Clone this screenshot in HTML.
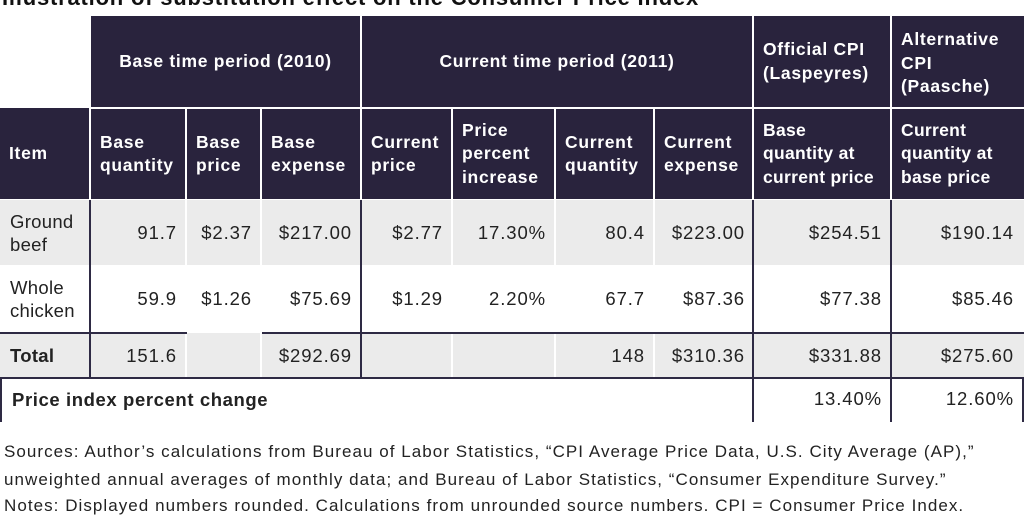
<!DOCTYPE html>
<html><head><meta charset="utf-8"><style>
body{margin:0;width:1024px;height:512px;overflow:hidden;background:#fff;font-family:"Liberation Sans",sans-serif;position:relative}
.a{position:absolute;box-sizing:border-box}
.h{background:#29233d;color:#fff;font-weight:bold;font-size:17.5px;letter-spacing:0.7px;line-height:23.5px;display:flex;align-items:center;padding-left:9px;white-space:nowrap}
.c{font-size:18.5px;letter-spacing:0.9px;color:#222;display:flex;align-items:center;justify-content:flex-end;padding-right:8px;white-space:nowrap}
.l{justify-content:flex-start;padding-left:10px;line-height:23px;letter-spacing:0.3px}
.g{background:#ebebeb}
.vd{position:absolute;background:#2e2a44;width:2px}
.hd{position:absolute;background:#2e2a44;height:2px}
.src{position:absolute;left:4px;font-size:17px;letter-spacing:1.05px;color:#222;white-space:nowrap}
</style></head><body>
<div class="a" style="left:2px;top:-15px;font-size:22px;font-weight:bold;letter-spacing:0.8px;color:#111;white-space:nowrap">Illustration of substitution effect on the Consumer Price Index</div>

<div class="a h" style="left:91px;top:16px;width:269px;height:91px;justify-content:center;padding:0">Base time period (2010)</div>
<div class="a h" style="left:362px;top:16px;width:390px;height:91px;justify-content:center;padding:0">Current time period (2011)</div>
<div class="a h" style="left:754px;top:16px;width:136px;height:91px">Official CPI<br>(Laspeyres)</div>
<div class="a h" style="left:892px;top:16px;width:132px;height:91px;padding-top:4px">Alternative<br>CPI<br>(Paasche)</div>

<div class="a h" style="left:0;top:108px;width:89px;height:91px">Item</div>
<div class="a h" style="left:91px;top:109px;width:94px;height:90px">Base<br>quantity</div>
<div class="a h" style="left:187px;top:109px;width:73px;height:90px">Base<br>price</div>
<div class="a h" style="left:262px;top:109px;width:98px;height:90px">Base<br>expense</div>
<div class="a h" style="left:362px;top:109px;width:89px;height:90px">Current<br>price</div>
<div class="a h" style="left:453px;top:109px;width:101px;height:90px">Price<br>percent<br>increase</div>
<div class="a h" style="left:556px;top:109px;width:97px;height:90px">Current<br>quantity</div>
<div class="a h" style="left:655px;top:109px;width:97px;height:90px">Current<br>expense</div>
<div class="a h" style="left:754px;top:109px;width:136px;height:90px;letter-spacing:0.3px">Base<br>quantity at<br>current price</div>
<div class="a h" style="left:892px;top:109px;width:132px;height:90px;letter-spacing:0.3px">Current<br>quantity at<br>base price</div>

<div class="a g" style="left:0;top:200px;width:1024px;height:65px"></div>
<div class="a g" style="left:0;top:333px;width:1024px;height:45px"></div>
<div class="a" style="left:185px;top:200px;width:2px;height:178px;background:#fff"></div>
<div class="a" style="left:260px;top:200px;width:2px;height:178px;background:#fff"></div>
<div class="a" style="left:451px;top:200px;width:2px;height:178px;background:#fff"></div>
<div class="a" style="left:554px;top:200px;width:2px;height:178px;background:#fff"></div>
<div class="a" style="left:653px;top:200px;width:2px;height:178px;background:#fff"></div>

<div class="a c l" style="left:0;top:200px;width:90px;height:65px">Ground<br>beef</div>
<div class="a c" style="left:91px;top:200px;width:94px;height:65px">91.7</div>
<div class="a c" style="left:187px;top:200px;width:73px;height:65px">$2.37</div>
<div class="a c" style="left:262px;top:200px;width:98px;height:65px">$217.00</div>
<div class="a c" style="left:362px;top:200px;width:89px;height:65px">$2.77</div>
<div class="a c" style="left:453px;top:200px;width:101px;height:65px">17.30%</div>
<div class="a c" style="left:556px;top:200px;width:97px;height:65px">80.4</div>
<div class="a c" style="left:655px;top:200px;width:98px;height:65px">$223.00</div>
<div class="a c" style="left:754px;top:200px;width:136px;height:65px">$254.51</div>
<div class="a c" style="left:892px;top:200px;width:130px;height:65px">$190.14</div>

<div class="a c l" style="left:0;top:265px;width:90px;height:67px">Whole<br>chicken</div>
<div class="a c" style="left:91px;top:265px;width:94px;height:67px">59.9</div>
<div class="a c" style="left:187px;top:265px;width:73px;height:67px">$1.26</div>
<div class="a c" style="left:262px;top:265px;width:98px;height:67px">$75.69</div>
<div class="a c" style="left:362px;top:265px;width:89px;height:67px">$1.29</div>
<div class="a c" style="left:453px;top:265px;width:101px;height:67px">2.20%</div>
<div class="a c" style="left:556px;top:265px;width:97px;height:67px">67.7</div>
<div class="a c" style="left:655px;top:265px;width:98px;height:67px">$87.36</div>
<div class="a c" style="left:754px;top:265px;width:136px;height:67px">$77.38</div>
<div class="a c" style="left:892px;top:265px;width:130px;height:67px">$85.46</div>

<div class="a c l" style="left:0;top:333px;width:90px;height:45px;font-weight:bold">Total</div>
<div class="a c" style="left:91px;top:333px;width:94px;height:45px">151.6</div>
<div class="a c" style="left:262px;top:333px;width:98px;height:45px">$292.69</div>
<div class="a c" style="left:556px;top:333px;width:97px;height:45px">148</div>
<div class="a c" style="left:655px;top:333px;width:98px;height:45px">$310.36</div>
<div class="a c" style="left:754px;top:333px;width:136px;height:45px">$331.88</div>
<div class="a c" style="left:892px;top:333px;width:130px;height:45px">$275.60</div>

<div class="a c l" style="left:2px;top:379px;width:700px;height:40px;font-weight:bold;letter-spacing:0.6px">Price index percent change</div>
<div class="a c" style="left:754px;top:379px;width:136px;height:40px">13.40%</div>
<div class="a c" style="left:892px;top:379px;width:130px;height:40px">12.60%</div>

<div class="vd" style="left:89px;top:200px;height:178px"></div>
<div class="vd" style="left:360px;top:200px;height:178px"></div>
<div class="vd" style="left:752px;top:200px;height:222px"></div>
<div class="vd" style="left:890px;top:200px;height:222px"></div>
<div class="vd" style="left:0;top:378px;height:44px"></div>
<div class="vd" style="left:1022px;top:378px;height:44px"></div>
<div class="hd" style="left:0;top:332px;width:187px"></div>
<div class="hd" style="left:262px;top:332px;width:762px"></div>
<div class="hd" style="left:0;top:377px;width:1024px"></div>

<div class="src" style="top:442px">Sources: Author’s calculations from Bureau of Labor Statistics, “CPI Average Price Data, U.S. City Average (AP),”</div>
<div class="src" style="top:470px">unweighted annual averages of monthly data; and Bureau of Labor Statistics, “Consumer Expenditure Survey.”</div>
<div class="src" style="top:496px">Notes: Displayed numbers rounded. Calculations from unrounded source numbers. CPI = Consumer Price Index.</div>
</body></html>
